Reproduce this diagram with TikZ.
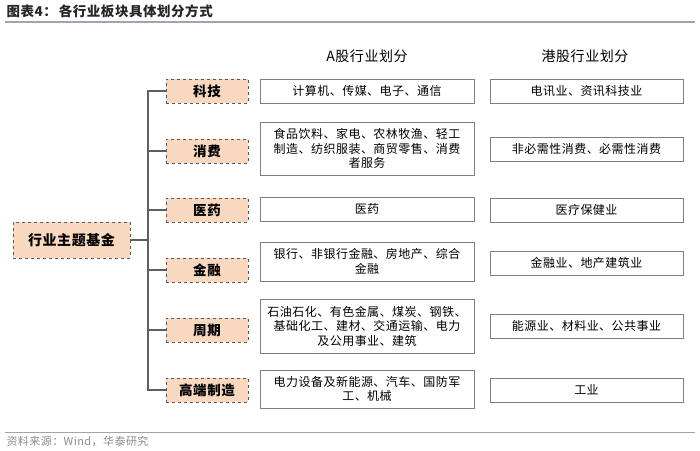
\documentclass[tikz,border=0pt]{standalone}
\usepackage{fontspec}
\setmainfont[LetterSpace=4]{Noto Sans CJK SC}
\usepackage{xcolor}
\usetikzlibrary{positioning}

\definecolor{peach}{HTML}{F9D8C0}
\definecolor{dashgray}{HTML}{595959}
\definecolor{boxgray}{HTML}{7F7F7F}
\definecolor{treegray}{HTML}{5F5F5F}
\definecolor{rulegray}{HTML}{9AA6B6}
\definecolor{srcgray}{HTML}{8C8C8C}

\begin{document}
\begin{tikzpicture}[
  x=1pt, y=-1pt,
  cat/.style   = {rectangle, draw=dashgray, dashed, fill=peach, line width=0.9pt,
                  minimum width=82pt, minimum height=24pt, inner sep=0pt,
                  font=\fontsize{13.5}{15}\selectfont\bfseries},
  abox/.style  = {rectangle, draw=boxgray, fill=white, line width=1pt,
                  minimum width=214pt, minimum height=24pt, inner sep=0pt, align=center,
                  font=\fontsize{12}{14.5}\selectfont},
  hbox/.style  = {abox, minimum width=193pt},
  head/.style  = {font=\fontsize{14}{16}\selectfont},
  tree/.style  = {draw=treegray, line width=1.3pt}
]
\useasboundingbox (0,0) rectangle (700,450);

% title and rules
\node[anchor=west, font=\fontsize{13.5}{15}\selectfont\bfseries, text=black!85] (title) at (3,11)
  {图表4：\hspace{2pt}各行业板块具体划分方式};
\draw[rulegray, line width=1.8pt] (5,22) -- (695,22);
\draw[rulegray, line width=0.8pt] (5,432) -- (695,432);
\node[anchor=west, font=\fontsize{11}{13}\selectfont, text=srcgray] (src) at (3,441)
  {资料来源：Wind，华泰研究};

% column heads
\node[head] (ahead) at (367,56) {A股行业划分};
\node[head] (hhead) at (585,56) {港股行业划分};

% root and categories
\node[cat, minimum width=117pt, minimum height=36pt, font=\fontsize{14}{16}\selectfont\bfseries]
  (root) at (71.5,240) {行业主题基金};
\node[cat] (tech) at (207,91)  {科技};
\node[cat] (cons) at (207,151) {消费};
\node[cat] (med)  at (207,210) {医药};
\node[cat] (fin)  at (207,270) {金融};
\node[cat] (cyc)  at (207,330) {周期};
\node[cat] (mfg)  at (207,390) {高端制造};

% A-share boxes
\node[abox] (a1) at (367,91) {计算机、传媒、电子、通信};
\node[abox, minimum height=53pt] (a2) at (367,148.5)
  {食品饮料、家电、农林牧渔、轻工\\制造、纺织服装、商贸零售、消费\\者服务};
\node[abox] (a3) at (367,209) {医药};
\node[abox, minimum height=39pt] (a4) at (367,261.5) {银行、非银行金融、房地产、综合\\金融};
\node[abox, minimum height=54pt] (a5) at (367,326)
  {石油石化、有色金属、煤炭、钢铁、\\基础化工、建材、交通运输、电力\\及公用事业、建筑};
\node[abox, minimum height=38pt] (a6) at (367,389) {电力设备及新能源、汽车、国防军\\工、机械};

% HK boxes
\node[hbox] (h1) at (586.5,91)  {电讯业、资讯科技业};
\node[hbox] (h2) at (586.5,149) {非必需性消费、必需性消费};
\node[hbox] (h3) at (586.5,210) {医疗保健业};
\node[hbox] (h4) at (586.5,263) {金融业、地产建筑业};
\node[hbox] (h5) at (586.5,326) {能源业、材料业、公共事业};
\node[hbox] (h6) at (586.5,390) {工业};

% tree
\coordinate (trunk) at (148,240);
\draw[tree] (root.east) -- (trunk);
\foreach \c in {tech,cons,med,fin,cyc,mfg}
  \draw[tree] (trunk) |- (\c.west);

\end{tikzpicture}
\end{document}
